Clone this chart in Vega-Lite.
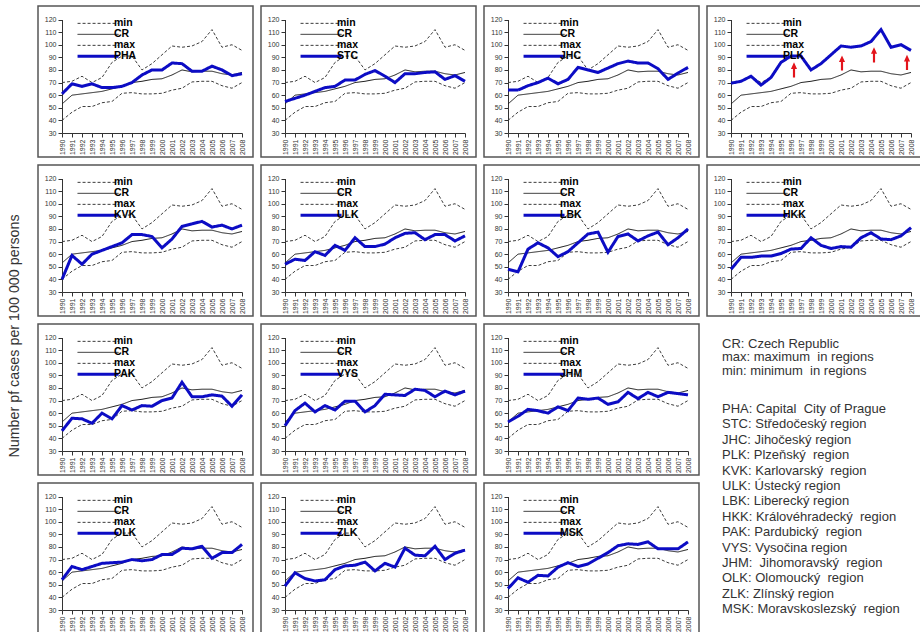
{
  "$schema": "https://vega.github.io/schema/vega-lite/v6.json",
  "padding": {"left": 7, "top": 5, "right": 0, "bottom": 0},
  "title": {"text": "Number pf cases per 100 000 persons", "orient": "left", "anchor": "middle", "font": "Liberation Sans", "fontSize": 14.3, "fontWeight": "normal", "color": "#333333", "offset": 15, "dx": -16},
  "datasets": {
    "rates": [
      {"year": 1990, "min": 40, "CR": 53, "max": 70, "PHA": 61, "STC": 55, "JHC": 64, "PLK": 69.5, "KVK": 40, "ULK": 52, "LBK": 48, "HKK": 48, "PAK": 46, "VYS": 50, "JHM": 53, "OLK": 54, "ZLK": 49, "MSK": 47},
      {"year": 1991, "min": 46.5, "CR": 60, "max": 71, "PHA": 69, "STC": 57.5, "JHC": 64, "PLK": 71, "KVK": 59, "ULK": 56, "LBK": 46, "HKK": 57.5, "PAK": 56, "VYS": 62, "JHM": 57.5, "OLK": 64.5, "ZLK": 59.5, "MSK": 55.5},
      {"year": 1992, "min": 51, "CR": 61, "max": 75, "PHA": 67, "STC": 60, "JHC": 67.5, "PLK": 75, "KVK": 52, "ULK": 55, "LBK": 64, "HKK": 57.5, "PAK": 55.5, "VYS": 68, "JHM": 63, "OLK": 62, "ZLK": 55, "MSK": 52},
      {"year": 1993, "min": 51, "CR": 62, "max": 70, "PHA": 69, "STC": 63, "JHC": 70, "PLK": 68, "KVK": 60, "ULK": 62, "LBK": 69, "HKK": 58.5, "PAK": 52, "VYS": 61, "JHM": 62, "OLK": 64.5, "ZLK": 53, "MSK": 57.5},
      {"year": 1994, "min": 54, "CR": 63, "max": 74, "PHA": 66, "STC": 66, "JHC": 73.5, "PLK": 74, "KVK": 63, "ULK": 59, "LBK": 65, "HKK": 58.5, "PAK": 60, "VYS": 66, "JHM": 60, "OLK": 67, "ZLK": 54, "MSK": 57},
      {"year": 1995, "min": 55, "CR": 65, "max": 86, "PHA": 66, "STC": 67, "JHC": 69, "PLK": 86, "KVK": 66, "ULK": 67, "LBK": 58, "HKK": 60.5, "PAK": 55.5, "VYS": 62.5, "JHM": 65, "OLK": 67.5, "ZLK": 62, "MSK": 64},
      {"year": 1996, "min": 61.5, "CR": 67, "max": 91, "PHA": 67, "STC": 72, "JHC": 72.5, "PLK": 91, "KVK": 69, "ULK": 63, "LBK": 62, "HKK": 64, "PAK": 66, "VYS": 69.5, "JHM": 62, "OLK": 68, "ZLK": 65, "MSK": 67.5},
      {"year": 1997, "min": 62, "CR": 70, "max": 91, "PHA": 70, "STC": 72, "JHC": 82, "PLK": 91, "KVK": 75.5, "ULK": 73, "LBK": 69, "HKK": 64.5, "PAK": 62.5, "VYS": 69.5, "JHM": 72, "OLK": 70, "ZLK": 65.5, "MSK": 64.5},
      {"year": 1998, "min": 61, "CR": 71, "max": 80, "PHA": 76, "STC": 76.5, "JHC": 80, "PLK": 80, "KVK": 75.5, "ULK": 66, "LBK": 76, "HKK": 73, "PAK": 66, "VYS": 61, "JHM": 71, "OLK": 69, "ZLK": 68, "MSK": 66.5},
      {"year": 1999, "min": 61, "CR": 72.5, "max": 85, "PHA": 80, "STC": 79.5, "JHC": 78, "PLK": 85, "KVK": 74, "ULK": 66, "LBK": 77.5, "HKK": 67, "PAK": 65.5, "VYS": 66, "JHM": 72, "OLK": 70, "ZLK": 61, "MSK": 71},
      {"year": 2000, "min": 61.5, "CR": 73, "max": 92, "PHA": 80, "STC": 75, "JHC": 81.5, "PLK": 92, "KVK": 65, "ULK": 68, "LBK": 61.5, "HKK": 64.5, "PAK": 70, "VYS": 75, "JHM": 67, "OLK": 74, "ZLK": 67, "MSK": 75.5},
      {"year": 2001, "min": 64, "CR": 76, "max": 99, "PHA": 85.5, "STC": 70, "JHC": 85, "PLK": 99, "KVK": 72, "ULK": 73, "LBK": 74, "HKK": 66, "PAK": 72, "VYS": 74.5, "JHM": 69, "OLK": 74, "ZLK": 64, "MSK": 81},
      {"year": 2002, "min": 65.5, "CR": 80, "max": 98, "PHA": 85, "STC": 77, "JHC": 87, "PLK": 98, "KVK": 82, "ULK": 76.5, "LBK": 76, "HKK": 65.5, "PAK": 84.5, "VYS": 74, "JHM": 76.5, "OLK": 79, "ZLK": 79, "MSK": 82.5},
      {"year": 2003, "min": 70.5, "CR": 78.5, "max": 99, "PHA": 79, "STC": 77, "JHC": 85.5, "PLK": 99, "KVK": 84, "ULK": 77, "LBK": 70.5, "HKK": 73, "PAK": 73, "VYS": 79, "JHM": 71.5, "OLK": 78.5, "ZLK": 73.5, "MSK": 82},
      {"year": 2004, "min": 71, "CR": 79, "max": 102.5, "PHA": 79, "STC": 78, "JHC": 85.5, "PLK": 102.5, "KVK": 86, "ULK": 71.5, "LBK": 74.5, "HKK": 77, "PAK": 73, "VYS": 78, "JHM": 76.5, "OLK": 80.5, "ZLK": 73, "MSK": 84},
      {"year": 2005, "min": 71, "CR": 79, "max": 112, "PHA": 83, "STC": 78.5, "JHC": 81, "PLK": 112, "KVK": 81.5, "ULK": 75.5, "LBK": 77.5, "HKK": 72, "PAK": 74.5, "VYS": 73, "JHM": 73, "OLK": 71, "ZLK": 80.5, "MSK": 78.5},
      {"year": 2006, "min": 67.5, "CR": 77, "max": 98, "PHA": 80, "STC": 72.5, "JHC": 72.5, "PLK": 98, "KVK": 83, "ULK": 75.5, "LBK": 67.5, "HKK": 71.5, "PAK": 73.5, "VYS": 77.5, "JHM": 76.5, "OLK": 75.5, "ZLK": 70, "MSK": 78.5},
      {"year": 2007, "min": 65.5, "CR": 76, "max": 100, "PHA": 75.5, "STC": 75.5, "JHC": 77.5, "PLK": 100, "KVK": 80, "ULK": 70.5, "LBK": 73, "HKK": 74.5, "PAK": 65.5, "VYS": 74.5, "JHM": 75.5, "OLK": 75.5, "ZLK": 75, "MSK": 78.5},
      {"year": 2008, "min": 70, "CR": 78, "max": 95.5, "PHA": 77, "STC": 71, "JHC": 82, "PLK": 95.5, "KVK": 83, "ULK": 74.5, "LBK": 80, "HKK": 81, "PAK": 74.5, "VYS": 77.5, "JHM": 74.5, "OLK": 82, "ZLK": 77.5, "MSK": 84}
    ],
    "arrows": [
      {"year": 1996.3, "rate": 80},
      {"year": 2001.1, "rate": 85.5},
      {"year": 2004.3, "rate": 92},
      {"year": 2007.6, "rate": 86}
    ],
    "notes": [
      {"block": "series", "line": "CR: Czech Republic"},
      {"block": "series", "line": "max:  maximum \u00a0in regions"},
      {"block": "series", "line": "min: minimum \u00a0in regions"},
      {"block": "regions", "line": "PHA: Capital \u00a0City of Prague"},
      {"block": "regions", "line": "STC: Středočeský region"},
      {"block": "regions", "line": "JHC: Jihočeský region"},
      {"block": "regions", "line": "PLK: Plzeňský \u00a0region"},
      {"block": "regions", "line": "KVK: Karlovarský \u00a0region"},
      {"block": "regions", "line": "ULK: Ústecký region"},
      {"block": "regions", "line": "LBK: Liberecký region"},
      {"block": "regions", "line": "HKK: Královéhradecký \u00a0region"},
      {"block": "regions", "line": "PAK: Pardubický \u00a0region"},
      {"block": "regions", "line": "VYS: Vysočina region"},
      {"block": "regions", "line": "JHM: \u00a0Jihomoravský \u00a0region"},
      {"block": "regions", "line": "OLK: Olomoucký \u00a0region"},
      {"block": "regions", "line": "ZLK: Zlínský region"},
      {"block": "regions", "line": "MSK: Moravskoslezský \u00a0region"}
    ]
  },
  "resolve": {"scale": {"color": "independent", "strokeDash": "independent"}},
  "spacing": 6,
  "vconcat": [
    {
      "spacing": 6,
      "resolve": {"scale": {"color": "independent", "strokeDash": "independent"}},
      "hconcat": [
        {"width":215,"height":151,"data":{"name":"rates"},"encoding":{"x":{"field":"year","type":"quantitative","scale":{"domain":[1990,2008],"range":[24,204],"nice":false,"zero":false},"axis":{"title":null,"values":[1990,1991,1992,1993,1994,1995,1996,1997,1998,1999,2000,2001,2002,2003,2004,2005,2006,2007,2008],"format":"d","labelAngle":270,"offset":-24}},"y":{"field":"rate","type":"quantitative","scale":{"domain":[30,120],"range":[127,13.5],"nice":false,"zero":false},"axis":{"title":null,"values":[30,40,50,60,70,80,90,100,110,120],"offset":-24}},"color":{"field":"series","type":"nominal","scale":{"domain":["min","CR","max","PHA"],"range":["#3c3c3c","#1a1a1a","#3c3c3c","#0c0cc4"]},"legend":{"title":null,"orient":"none","legendX":33.5,"legendY":9,"encode":{"symbols":{"update":{"strokeWidth":{"signal":"datum.index === 3 ? 3 : 1"}}}}}},"strokeDash":{"field":"series","type":"nominal","scale":{"domain":["min","CR","max","PHA"],"range":[[3,2],[1,0],[3,2],[1,0]]},"legend":{"title":null,"orient":"none","legendX":33.5,"legendY":9}}},"layer":[{"transform":[{"fold":["min","CR","max"],"as":["series","rate"]}],"mark":{"type":"line","strokeWidth":1}},{"transform":[{"fold":["PHA"],"as":["series","rate"]}],"mark":{"type":"line","strokeWidth":3}}]},
        {"width":215,"height":151,"data":{"name":"rates"},"encoding":{"x":{"field":"year","type":"quantitative","scale":{"domain":[1990,2008],"range":[24,204],"nice":false,"zero":false},"axis":{"title":null,"values":[1990,1991,1992,1993,1994,1995,1996,1997,1998,1999,2000,2001,2002,2003,2004,2005,2006,2007,2008],"format":"d","labelAngle":270,"offset":-24}},"y":{"field":"rate","type":"quantitative","scale":{"domain":[30,120],"range":[127,13.5],"nice":false,"zero":false},"axis":{"title":null,"values":[30,40,50,60,70,80,90,100,110,120],"offset":-24}},"color":{"field":"series","type":"nominal","scale":{"domain":["min","CR","max","STC"],"range":["#3c3c3c","#1a1a1a","#3c3c3c","#0c0cc4"]},"legend":{"title":null,"orient":"none","legendX":33.5,"legendY":9,"encode":{"symbols":{"update":{"strokeWidth":{"signal":"datum.index === 3 ? 3 : 1"}}}}}},"strokeDash":{"field":"series","type":"nominal","scale":{"domain":["min","CR","max","STC"],"range":[[3,2],[1,0],[3,2],[1,0]]},"legend":{"title":null,"orient":"none","legendX":33.5,"legendY":9}}},"layer":[{"transform":[{"fold":["min","CR","max"],"as":["series","rate"]}],"mark":{"type":"line","strokeWidth":1}},{"transform":[{"fold":["STC"],"as":["series","rate"]}],"mark":{"type":"line","strokeWidth":3}}]},
        {"width":215,"height":151,"data":{"name":"rates"},"encoding":{"x":{"field":"year","type":"quantitative","scale":{"domain":[1990,2008],"range":[24,204],"nice":false,"zero":false},"axis":{"title":null,"values":[1990,1991,1992,1993,1994,1995,1996,1997,1998,1999,2000,2001,2002,2003,2004,2005,2006,2007,2008],"format":"d","labelAngle":270,"offset":-24}},"y":{"field":"rate","type":"quantitative","scale":{"domain":[30,120],"range":[127,13.5],"nice":false,"zero":false},"axis":{"title":null,"values":[30,40,50,60,70,80,90,100,110,120],"offset":-24}},"color":{"field":"series","type":"nominal","scale":{"domain":["min","CR","max","JHC"],"range":["#3c3c3c","#1a1a1a","#3c3c3c","#0c0cc4"]},"legend":{"title":null,"orient":"none","legendX":33.5,"legendY":9,"encode":{"symbols":{"update":{"strokeWidth":{"signal":"datum.index === 3 ? 3 : 1"}}}}}},"strokeDash":{"field":"series","type":"nominal","scale":{"domain":["min","CR","max","JHC"],"range":[[3,2],[1,0],[3,2],[1,0]]},"legend":{"title":null,"orient":"none","legendX":33.5,"legendY":9}}},"layer":[{"transform":[{"fold":["min","CR","max"],"as":["series","rate"]}],"mark":{"type":"line","strokeWidth":1}},{"transform":[{"fold":["JHC"],"as":["series","rate"]}],"mark":{"type":"line","strokeWidth":3}}]},
        {"width":215,"height":151,"data":{"name":"rates"},"encoding":{"x":{"field":"year","type":"quantitative","scale":{"domain":[1990,2008],"range":[24,204],"nice":false,"zero":false},"axis":{"title":null,"values":[1990,1991,1992,1993,1994,1995,1996,1997,1998,1999,2000,2001,2002,2003,2004,2005,2006,2007,2008],"format":"d","labelAngle":270,"offset":-24}},"y":{"field":"rate","type":"quantitative","scale":{"domain":[30,120],"range":[127,13.5],"nice":false,"zero":false},"axis":{"title":null,"values":[30,40,50,60,70,80,90,100,110,120],"offset":-24}},"color":{"field":"series","type":"nominal","scale":{"domain":["min","CR","max","PLK"],"range":["#3c3c3c","#1a1a1a","#3c3c3c","#0c0cc4"]},"legend":{"title":null,"orient":"none","legendX":33.5,"legendY":9,"encode":{"symbols":{"update":{"strokeWidth":{"signal":"datum.index === 3 ? 3 : 1"}}}}}},"strokeDash":{"field":"series","type":"nominal","scale":{"domain":["min","CR","max","PLK"],"range":[[3,2],[1,0],[3,2],[1,0]]},"legend":{"title":null,"orient":"none","legendX":33.5,"legendY":9}}},"layer":[{"transform":[{"fold":["min","CR","max"],"as":["series","rate"]}],"mark":{"type":"line","strokeWidth":1}},{"transform":[{"fold":["PLK"],"as":["series","rate"]}],"mark":{"type":"line","strokeWidth":3}},{"data":{"name":"arrows"},"mark":{"type":"point","shape":"arrow","filled":true,"size":230,"opacity":1},"encoding":{"color":{"value":"#e3141b"},"strokeDash":{"value":[1,0]}}}]}
      ]
    },
    {
      "spacing": 6,
      "resolve": {"scale": {"color": "independent", "strokeDash": "independent"}},
      "hconcat": [
        {"width":215,"height":151,"data":{"name":"rates"},"encoding":{"x":{"field":"year","type":"quantitative","scale":{"domain":[1990,2008],"range":[24,204],"nice":false,"zero":false},"axis":{"title":null,"values":[1990,1991,1992,1993,1994,1995,1996,1997,1998,1999,2000,2001,2002,2003,2004,2005,2006,2007,2008],"format":"d","labelAngle":270,"offset":-24}},"y":{"field":"rate","type":"quantitative","scale":{"domain":[30,120],"range":[127,13.5],"nice":false,"zero":false},"axis":{"title":null,"values":[30,40,50,60,70,80,90,100,110,120],"offset":-24}},"color":{"field":"series","type":"nominal","scale":{"domain":["min","CR","max","KVK"],"range":["#3c3c3c","#1a1a1a","#3c3c3c","#0c0cc4"]},"legend":{"title":null,"orient":"none","legendX":33.5,"legendY":9,"encode":{"symbols":{"update":{"strokeWidth":{"signal":"datum.index === 3 ? 3 : 1"}}}}}},"strokeDash":{"field":"series","type":"nominal","scale":{"domain":["min","CR","max","KVK"],"range":[[3,2],[1,0],[3,2],[1,0]]},"legend":{"title":null,"orient":"none","legendX":33.5,"legendY":9}}},"layer":[{"transform":[{"fold":["min","CR","max"],"as":["series","rate"]}],"mark":{"type":"line","strokeWidth":1}},{"transform":[{"fold":["KVK"],"as":["series","rate"]}],"mark":{"type":"line","strokeWidth":3}}]},
        {"width":215,"height":151,"data":{"name":"rates"},"encoding":{"x":{"field":"year","type":"quantitative","scale":{"domain":[1990,2008],"range":[24,204],"nice":false,"zero":false},"axis":{"title":null,"values":[1990,1991,1992,1993,1994,1995,1996,1997,1998,1999,2000,2001,2002,2003,2004,2005,2006,2007,2008],"format":"d","labelAngle":270,"offset":-24}},"y":{"field":"rate","type":"quantitative","scale":{"domain":[30,120],"range":[127,13.5],"nice":false,"zero":false},"axis":{"title":null,"values":[30,40,50,60,70,80,90,100,110,120],"offset":-24}},"color":{"field":"series","type":"nominal","scale":{"domain":["min","CR","max","ULK"],"range":["#3c3c3c","#1a1a1a","#3c3c3c","#0c0cc4"]},"legend":{"title":null,"orient":"none","legendX":33.5,"legendY":9,"encode":{"symbols":{"update":{"strokeWidth":{"signal":"datum.index === 3 ? 3 : 1"}}}}}},"strokeDash":{"field":"series","type":"nominal","scale":{"domain":["min","CR","max","ULK"],"range":[[3,2],[1,0],[3,2],[1,0]]},"legend":{"title":null,"orient":"none","legendX":33.5,"legendY":9}}},"layer":[{"transform":[{"fold":["min","CR","max"],"as":["series","rate"]}],"mark":{"type":"line","strokeWidth":1}},{"transform":[{"fold":["ULK"],"as":["series","rate"]}],"mark":{"type":"line","strokeWidth":3}}]},
        {"width":215,"height":151,"data":{"name":"rates"},"encoding":{"x":{"field":"year","type":"quantitative","scale":{"domain":[1990,2008],"range":[24,204],"nice":false,"zero":false},"axis":{"title":null,"values":[1990,1991,1992,1993,1994,1995,1996,1997,1998,1999,2000,2001,2002,2003,2004,2005,2006,2007,2008],"format":"d","labelAngle":270,"offset":-24}},"y":{"field":"rate","type":"quantitative","scale":{"domain":[30,120],"range":[127,13.5],"nice":false,"zero":false},"axis":{"title":null,"values":[30,40,50,60,70,80,90,100,110,120],"offset":-24}},"color":{"field":"series","type":"nominal","scale":{"domain":["min","CR","max","LBK"],"range":["#3c3c3c","#1a1a1a","#3c3c3c","#0c0cc4"]},"legend":{"title":null,"orient":"none","legendX":33.5,"legendY":9,"encode":{"symbols":{"update":{"strokeWidth":{"signal":"datum.index === 3 ? 3 : 1"}}}}}},"strokeDash":{"field":"series","type":"nominal","scale":{"domain":["min","CR","max","LBK"],"range":[[3,2],[1,0],[3,2],[1,0]]},"legend":{"title":null,"orient":"none","legendX":33.5,"legendY":9}}},"layer":[{"transform":[{"fold":["min","CR","max"],"as":["series","rate"]}],"mark":{"type":"line","strokeWidth":1}},{"transform":[{"fold":["LBK"],"as":["series","rate"]}],"mark":{"type":"line","strokeWidth":3}}]},
        {"width":215,"height":151,"data":{"name":"rates"},"encoding":{"x":{"field":"year","type":"quantitative","scale":{"domain":[1990,2008],"range":[24,204],"nice":false,"zero":false},"axis":{"title":null,"values":[1990,1991,1992,1993,1994,1995,1996,1997,1998,1999,2000,2001,2002,2003,2004,2005,2006,2007,2008],"format":"d","labelAngle":270,"offset":-24}},"y":{"field":"rate","type":"quantitative","scale":{"domain":[30,120],"range":[127,13.5],"nice":false,"zero":false},"axis":{"title":null,"values":[30,40,50,60,70,80,90,100,110,120],"offset":-24}},"color":{"field":"series","type":"nominal","scale":{"domain":["min","CR","max","HKK"],"range":["#3c3c3c","#1a1a1a","#3c3c3c","#0c0cc4"]},"legend":{"title":null,"orient":"none","legendX":33.5,"legendY":9,"encode":{"symbols":{"update":{"strokeWidth":{"signal":"datum.index === 3 ? 3 : 1"}}}}}},"strokeDash":{"field":"series","type":"nominal","scale":{"domain":["min","CR","max","HKK"],"range":[[3,2],[1,0],[3,2],[1,0]]},"legend":{"title":null,"orient":"none","legendX":33.5,"legendY":9}}},"layer":[{"transform":[{"fold":["min","CR","max"],"as":["series","rate"]}],"mark":{"type":"line","strokeWidth":1}},{"transform":[{"fold":["HKK"],"as":["series","rate"]}],"mark":{"type":"line","strokeWidth":3}}]}
      ]
    },
    {
      "spacing": 21.5,
      "resolve": {"scale": {"color": "independent", "strokeDash": "independent"}},
      "hconcat": [
        {
          "spacing": 6,
          "resolve": {"scale": {"color": "independent", "strokeDash": "independent"}},
          "vconcat": [
            {
              "spacing": 6,
              "resolve": {"scale": {"color": "independent", "strokeDash": "independent"}},
              "hconcat": [
                {"width":215,"height":151,"data":{"name":"rates"},"encoding":{"x":{"field":"year","type":"quantitative","scale":{"domain":[1990,2008],"range":[24,204],"nice":false,"zero":false},"axis":{"title":null,"values":[1990,1991,1992,1993,1994,1995,1996,1997,1998,1999,2000,2001,2002,2003,2004,2005,2006,2007,2008],"format":"d","labelAngle":270,"offset":-24}},"y":{"field":"rate","type":"quantitative","scale":{"domain":[30,120],"range":[127,13.5],"nice":false,"zero":false},"axis":{"title":null,"values":[30,40,50,60,70,80,90,100,110,120],"offset":-24}},"color":{"field":"series","type":"nominal","scale":{"domain":["min","CR","max","PAK"],"range":["#3c3c3c","#1a1a1a","#3c3c3c","#0c0cc4"]},"legend":{"title":null,"orient":"none","legendX":33.5,"legendY":9,"encode":{"symbols":{"update":{"strokeWidth":{"signal":"datum.index === 3 ? 3 : 1"}}}}}},"strokeDash":{"field":"series","type":"nominal","scale":{"domain":["min","CR","max","PAK"],"range":[[3,2],[1,0],[3,2],[1,0]]},"legend":{"title":null,"orient":"none","legendX":33.5,"legendY":9}}},"layer":[{"transform":[{"fold":["min","CR","max"],"as":["series","rate"]}],"mark":{"type":"line","strokeWidth":1}},{"transform":[{"fold":["PAK"],"as":["series","rate"]}],"mark":{"type":"line","strokeWidth":3}}]},
                {"width":215,"height":151,"data":{"name":"rates"},"encoding":{"x":{"field":"year","type":"quantitative","scale":{"domain":[1990,2008],"range":[24,204],"nice":false,"zero":false},"axis":{"title":null,"values":[1990,1991,1992,1993,1994,1995,1996,1997,1998,1999,2000,2001,2002,2003,2004,2005,2006,2007,2008],"format":"d","labelAngle":270,"offset":-24}},"y":{"field":"rate","type":"quantitative","scale":{"domain":[30,120],"range":[127,13.5],"nice":false,"zero":false},"axis":{"title":null,"values":[30,40,50,60,70,80,90,100,110,120],"offset":-24}},"color":{"field":"series","type":"nominal","scale":{"domain":["min","CR","max","VYS"],"range":["#3c3c3c","#1a1a1a","#3c3c3c","#0c0cc4"]},"legend":{"title":null,"orient":"none","legendX":33.5,"legendY":9,"encode":{"symbols":{"update":{"strokeWidth":{"signal":"datum.index === 3 ? 3 : 1"}}}}}},"strokeDash":{"field":"series","type":"nominal","scale":{"domain":["min","CR","max","VYS"],"range":[[3,2],[1,0],[3,2],[1,0]]},"legend":{"title":null,"orient":"none","legendX":33.5,"legendY":9}}},"layer":[{"transform":[{"fold":["min","CR","max"],"as":["series","rate"]}],"mark":{"type":"line","strokeWidth":1}},{"transform":[{"fold":["VYS"],"as":["series","rate"]}],"mark":{"type":"line","strokeWidth":3}}]},
                {"width":215,"height":151,"data":{"name":"rates"},"encoding":{"x":{"field":"year","type":"quantitative","scale":{"domain":[1990,2008],"range":[24,204],"nice":false,"zero":false},"axis":{"title":null,"values":[1990,1991,1992,1993,1994,1995,1996,1997,1998,1999,2000,2001,2002,2003,2004,2005,2006,2007,2008],"format":"d","labelAngle":270,"offset":-24}},"y":{"field":"rate","type":"quantitative","scale":{"domain":[30,120],"range":[127,13.5],"nice":false,"zero":false},"axis":{"title":null,"values":[30,40,50,60,70,80,90,100,110,120],"offset":-24}},"color":{"field":"series","type":"nominal","scale":{"domain":["min","CR","max","JHM"],"range":["#3c3c3c","#1a1a1a","#3c3c3c","#0c0cc4"]},"legend":{"title":null,"orient":"none","legendX":33.5,"legendY":9,"encode":{"symbols":{"update":{"strokeWidth":{"signal":"datum.index === 3 ? 3 : 1"}}}}}},"strokeDash":{"field":"series","type":"nominal","scale":{"domain":["min","CR","max","JHM"],"range":[[3,2],[1,0],[3,2],[1,0]]},"legend":{"title":null,"orient":"none","legendX":33.5,"legendY":9}}},"layer":[{"transform":[{"fold":["min","CR","max"],"as":["series","rate"]}],"mark":{"type":"line","strokeWidth":1}},{"transform":[{"fold":["JHM"],"as":["series","rate"]}],"mark":{"type":"line","strokeWidth":3}}]}
              ]
            },
            {
              "spacing": 6,
              "resolve": {"scale": {"color": "independent", "strokeDash": "independent"}},
              "hconcat": [
                {"width":215,"height":151,"data":{"name":"rates"},"encoding":{"x":{"field":"year","type":"quantitative","scale":{"domain":[1990,2008],"range":[24,204],"nice":false,"zero":false},"axis":{"title":null,"values":[1990,1991,1992,1993,1994,1995,1996,1997,1998,1999,2000,2001,2002,2003,2004,2005,2006,2007,2008],"format":"d","labelAngle":270,"offset":-24}},"y":{"field":"rate","type":"quantitative","scale":{"domain":[30,120],"range":[127,13.5],"nice":false,"zero":false},"axis":{"title":null,"values":[30,40,50,60,70,80,90,100,110,120],"offset":-24}},"color":{"field":"series","type":"nominal","scale":{"domain":["min","CR","max","OLK"],"range":["#3c3c3c","#1a1a1a","#3c3c3c","#0c0cc4"]},"legend":{"title":null,"orient":"none","legendX":33.5,"legendY":9,"encode":{"symbols":{"update":{"strokeWidth":{"signal":"datum.index === 3 ? 3 : 1"}}}}}},"strokeDash":{"field":"series","type":"nominal","scale":{"domain":["min","CR","max","OLK"],"range":[[3,2],[1,0],[3,2],[1,0]]},"legend":{"title":null,"orient":"none","legendX":33.5,"legendY":9}}},"layer":[{"transform":[{"fold":["min","CR","max"],"as":["series","rate"]}],"mark":{"type":"line","strokeWidth":1}},{"transform":[{"fold":["OLK"],"as":["series","rate"]}],"mark":{"type":"line","strokeWidth":3}}]},
                {"width":215,"height":151,"data":{"name":"rates"},"encoding":{"x":{"field":"year","type":"quantitative","scale":{"domain":[1990,2008],"range":[24,204],"nice":false,"zero":false},"axis":{"title":null,"values":[1990,1991,1992,1993,1994,1995,1996,1997,1998,1999,2000,2001,2002,2003,2004,2005,2006,2007,2008],"format":"d","labelAngle":270,"offset":-24}},"y":{"field":"rate","type":"quantitative","scale":{"domain":[30,120],"range":[127,13.5],"nice":false,"zero":false},"axis":{"title":null,"values":[30,40,50,60,70,80,90,100,110,120],"offset":-24}},"color":{"field":"series","type":"nominal","scale":{"domain":["min","CR","max","ZLK"],"range":["#3c3c3c","#1a1a1a","#3c3c3c","#0c0cc4"]},"legend":{"title":null,"orient":"none","legendX":33.5,"legendY":9,"encode":{"symbols":{"update":{"strokeWidth":{"signal":"datum.index === 3 ? 3 : 1"}}}}}},"strokeDash":{"field":"series","type":"nominal","scale":{"domain":["min","CR","max","ZLK"],"range":[[3,2],[1,0],[3,2],[1,0]]},"legend":{"title":null,"orient":"none","legendX":33.5,"legendY":9}}},"layer":[{"transform":[{"fold":["min","CR","max"],"as":["series","rate"]}],"mark":{"type":"line","strokeWidth":1}},{"transform":[{"fold":["ZLK"],"as":["series","rate"]}],"mark":{"type":"line","strokeWidth":3}}]},
                {"width":215,"height":151,"data":{"name":"rates"},"encoding":{"x":{"field":"year","type":"quantitative","scale":{"domain":[1990,2008],"range":[24,204],"nice":false,"zero":false},"axis":{"title":null,"values":[1990,1991,1992,1993,1994,1995,1996,1997,1998,1999,2000,2001,2002,2003,2004,2005,2006,2007,2008],"format":"d","labelAngle":270,"offset":-24}},"y":{"field":"rate","type":"quantitative","scale":{"domain":[30,120],"range":[127,13.5],"nice":false,"zero":false},"axis":{"title":null,"values":[30,40,50,60,70,80,90,100,110,120],"offset":-24}},"color":{"field":"series","type":"nominal","scale":{"domain":["min","CR","max","MSK"],"range":["#3c3c3c","#1a1a1a","#3c3c3c","#0c0cc4"]},"legend":{"title":null,"orient":"none","legendX":33.5,"legendY":9,"encode":{"symbols":{"update":{"strokeWidth":{"signal":"datum.index === 3 ? 3 : 1"}}}}}},"strokeDash":{"field":"series","type":"nominal","scale":{"domain":["min","CR","max","MSK"],"range":[[3,2],[1,0],[3,2],[1,0]]},"legend":{"title":null,"orient":"none","legendX":33.5,"legendY":9}}},"layer":[{"transform":[{"fold":["min","CR","max"],"as":["series","rate"]}],"mark":{"type":"line","strokeWidth":1}},{"transform":[{"fold":["MSK"],"as":["series","rate"]}],"mark":{"type":"line","strokeWidth":3}}]}
              ]
            }
          ]
        },
        {
          "width": 1,
          "height": 300,
          "data": {"name": "notes"},
          "view": {"stroke": null},
          "resolve": {"scale": {"y": "independent"}},
          "layer": [
            {
              "transform": [{"filter": "datum.block == 'series'"}],
              "mark": {"type": "text", "align": "left", "baseline": "middle", "font": "Liberation Sans", "fontSize": 13, "color": "#333333"},
              "encoding": {
                "y": {"field": "line", "type": "nominal", "sort": null, "axis": null, "scale": {"range": [13, 53.5], "paddingInner": 0, "paddingOuter": 0}},
                "text": {"field": "line"}
              }
            },
            {
              "transform": [{"filter": "datum.block == 'regions'"}],
              "mark": {"type": "text", "align": "left", "baseline": "middle", "font": "Liberation Sans", "fontSize": 13, "color": "#333333"},
              "encoding": {
                "y": {"field": "line", "type": "nominal", "sort": null, "axis": null, "scale": {"range": [77.3, 292.9], "paddingInner": 0, "paddingOuter": 0}},
                "text": {"field": "line"}
              }
            }
          ]
        }
      ]
    }
  ],
  "config": {
    "background": "#ffffff",
    "view": {"stroke": "#555555", "strokeWidth": 1.5},
    "axis": {
      "grid": false,
      "labelFont": "Liberation Sans",
      "labelFontSize": 7,
      "labelColor": "#333333",
      "domainColor": "#333333",
      "tickColor": "#333333",
      "tickSize": 4,
      "labelPadding": 2,
      "labelOverlap": false
    },
    "legend": {
      "symbolType": "stroke",
      "symbolSize": 1681,
      "symbolOffset": 18.3,
      "clipHeight": 10.7,
      "labelFont": "Liberation Sans",
      "labelFontSize": 10.5,
      "labelFontWeight": "bold",
      "labelColor": "#000000",
      "labelOffset": 10.7,
      "rowPadding": 0,
      "padding": 3
    }
  }
}
